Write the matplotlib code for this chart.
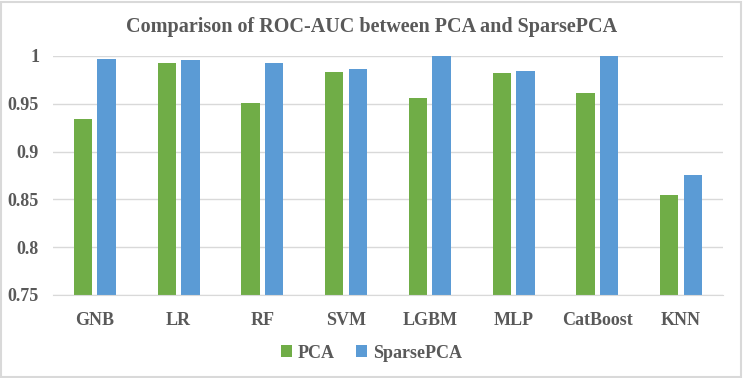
import numpy as np
import matplotlib.pyplot as plt
from matplotlib.patches import Rectangle

models = ['GNB', 'LR', 'RF', 'SVM', 'LGBM', 'MLP', 'CatBoost', 'KNN']
pca = [0.934, 0.993, 0.951, 0.983, 0.956, 0.982, 0.961, 0.855]
sparse_pca = [0.997, 0.996, 0.993, 0.986, 1.0, 0.984, 1.0, 0.876]

green = '#70AD47'
blue = '#5B9BD5'
text_col = '#595959'
grid_col = '#D9D9D9'

plt.rcParams['font.family'] = ['Liberation Serif', 'DejaVu Serif']
plt.rcParams['font.weight'] = 'bold'

fig = plt.figure(figsize=(7.43, 3.78), dpi=100)
ax = fig.add_axes([0.0713, 0.2196, 0.9017, 0.6324])

x = np.arange(len(models))
w = 0.22
ax.bar(x - 0.141, pca, w, color=green, label='PCA', zorder=3)
ax.bar(x + 0.141, sparse_pca, w, color=blue, label='SparsePCA', zorder=3)

ax.set_xlim(-0.5, len(models) - 0.5)
ax.set_ylim(0.75, 1.0)
ax.set_yticks([0.75, 0.8, 0.85, 0.9, 0.95, 1.0])
ax.set_yticklabels(['0.75', '0.8', '0.85', '0.9', '0.95', '1'])
ax.set_xticks(x)
ax.set_xticklabels(models)
ax.yaxis.grid(True, color=grid_col, linewidth=1, zorder=0)
for s in ['top', 'right', 'left']:
    ax.spines[s].set_visible(False)
ax.spines['bottom'].set_color(grid_col)
ax.spines['bottom'].set_zorder(4)
ax.tick_params(axis='both', length=0, labelcolor=text_col, labelsize=13)
ax.tick_params(axis='x', pad=12)
ax.tick_params(axis='y', pad=10)

fig.text(0.5, 0.928, 'Comparison of ROC-AUC between PCA and SparsePCA',
         ha='center', va='center', fontsize=14.5, color=text_col, fontweight='bold')

fig.legend(loc='center', bbox_to_anchor=(0.5, 0.066), ncol=2, frameon=False,
           fontsize=13, labelcolor=text_col, handlelength=0.6, handleheight=0.6,
           handletextpad=0.3, columnspacing=1.2)

fig.patches.append(Rectangle((0.002, 0.003), 0.995, 0.993, transform=fig.transFigure,
                             fill=False, edgecolor=grid_col, linewidth=1.5))

fig.savefig('out.png', dpi=100)
